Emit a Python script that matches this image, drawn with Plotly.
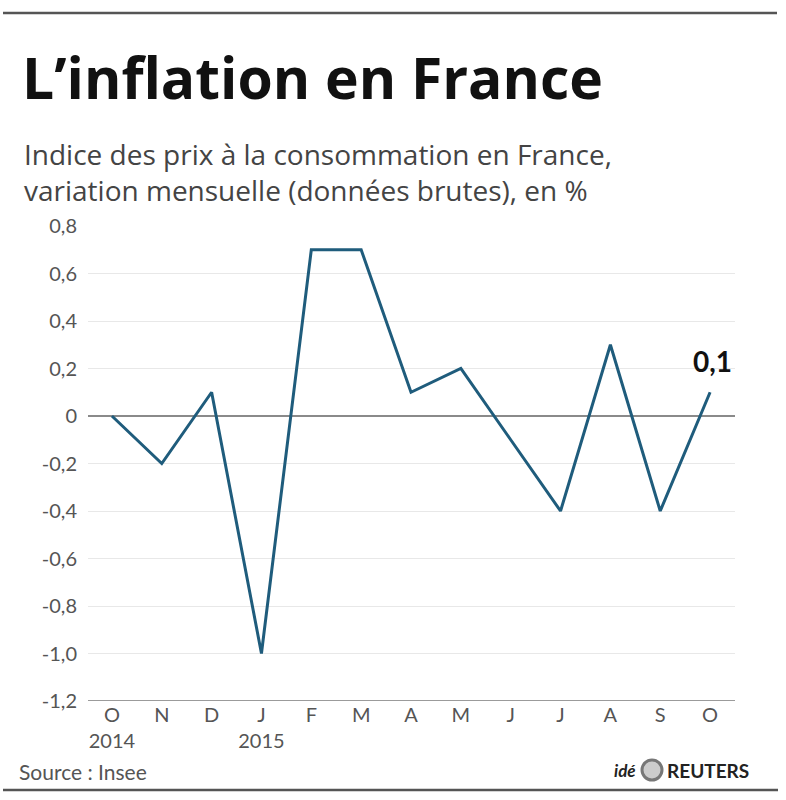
import plotly.graph_objects as go

months = ["O", "N", "D", "J", "F", "M", "A", "M", "J", "J", "A", "S", "O"]
years = ["2014", "", "", "2015", "", "", "", "", "", "", "", "", ""]
values = [0.0, -0.2, 0.1, -1.0, 0.7, 0.7, 0.1, 0.2, -0.1, -0.4, 0.3, -0.4, 0.1]
y_ticks = [-1.2, -1.0, -0.8, -0.6, -0.4, -0.2, 0.0, 0.2, 0.4, 0.6, 0.8]
y_labels = ["-1,2", "-1,0", "-0,8", "-0,6", "-0,4", "-0,2", "0", "0,2", "0,4", "0,6", "0,8"]

FONT = "Lato"
W, H = 786, 800
L, R, T, B = 88, 51, 226, 99
PW, PH = W - L - R, H - T - B


def px(x):
    return (x - L) / PW


def py(y):
    return (H - B - y) / PH


x_idx = list(range(len(months)))
tick_text = [m + ("<br>" + y if y else "") for m, y in zip(months, years)]

fig = go.Figure()
fig.add_trace(go.Scatter(
    x=x_idx, y=values, mode="lines",
    line=dict(color="#1f5c7c", width=3),
    hoverinfo="skip", showlegend=False,
))

fig.update_layout(
    width=W, height=H,
    margin=dict(l=L, r=R, t=T, b=B),
    paper_bgcolor="white", plot_bgcolor="white",
    font=dict(family=FONT, color="#555555"),
    xaxis=dict(
        range=[-0.48, 12.5], tickmode="array", tickvals=x_idx, ticktext=tick_text,
        showgrid=False, zeroline=False, showline=False, ticks="",
        tickfont=dict(size=20, color="#555555"), fixedrange=True,
    ),
    yaxis=dict(
        range=[-1.2, 0.8], tickmode="array", tickvals=y_ticks, ticktext=y_labels,
        showgrid=True, gridcolor="#e8e8e8", gridwidth=1,
        zeroline=True, zerolinecolor="#8a8a8a", zerolinewidth=1.5,
        showline=False, ticks="", ticklabelstandoff=10,
        tickfont=dict(size=20, color="#555555"), fixedrange=True,
    ),
    showlegend=False,
)

# bottom axis line at -1.2
fig.add_shape(type="line", xref="paper", yref="y", x0=0, x1=1, y0=-1.2, y1=-1.2,
              line=dict(color="#7a7a7a", width=1.5))
# top and bottom rules
fig.add_shape(type="line", xref="paper", yref="paper", x0=px(3), x1=px(777),
              y0=py(13), y1=py(13), line=dict(color="#555555", width=2.5))
fig.add_shape(type="line", xref="paper", yref="paper", x0=px(3), x1=px(778),
              y0=py(790), y1=py(790), line=dict(color="#555555", width=2.5))

# title and subtitle
fig.add_annotation(text="<b>L’inflation en France</b>", xref="paper", yref="paper",
                   x=px(20), y=py(77), xanchor="left", yanchor="middle",
                   showarrow=False, font=dict(size=57, color="#111111", family="Open Sans"))
fig.add_annotation(text="Indice des prix à la consommation en France,<br>variation mensuelle (données brutes), en %",
                   xref="paper", yref="paper", x=px(22), y=py(172),
                   xanchor="left", yanchor="middle", align="left", showarrow=False,
                   font=dict(size=28, color="#444444", family="Open Sans"))

# last value label
fig.add_annotation(text="<b>0,1</b>", x=x_idx[-1], y=values[-1], xref="x", yref="y",
                   yshift=12, xshift=2, showarrow=False, yanchor="bottom",
                   font=dict(size=28, color="#111111", family=FONT))

# source
fig.add_annotation(text="Source : Insee", xref="paper", yref="paper",
                   x=px(17), y=py(771), xanchor="left", yanchor="middle",
                   showarrow=False, font=dict(size=21, color="#555555", family=FONT))

# Reuters logo approximation
fig.add_annotation(text="<b><i>idé</i></b>", xref="paper", yref="paper",
                   x=px(638), y=py(770), xanchor="right", yanchor="middle",
                   showarrow=False, font=dict(size=17, color="#222222", family=FONT))
fig.add_shape(type="circle", xref="paper", yref="paper",
              x0=px(642), x1=px(662), y0=py(780), y1=py(760),
              line=dict(color="#777777", width=3), fillcolor="#cccccc")
fig.add_annotation(text="<b>REUTERS</b>", xref="paper", yref="paper",
                   x=px(665), y=py(770), xanchor="left", yanchor="middle",
                   showarrow=False, font=dict(size=19, color="#222222", family=FONT))

fig.write_html("out.html", config={"displayModeBar": False},
               post_script="document.body.style.margin='0';")
